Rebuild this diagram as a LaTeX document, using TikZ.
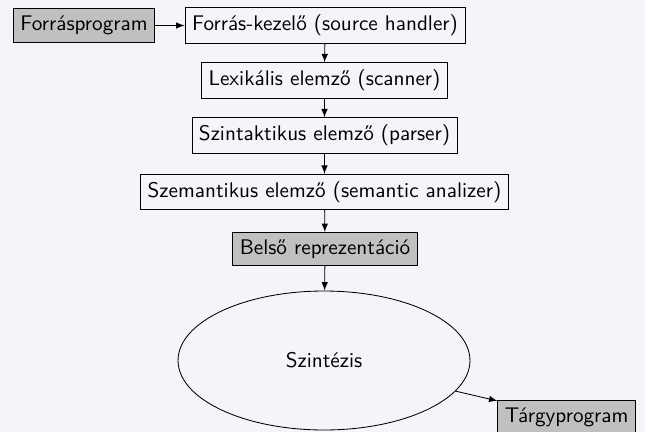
\documentclass[tikz,border=0pt]{standalone}
\usetikzlibrary{shapes.geometric}
\definecolor{lapszin}{RGB}{244,245,249}
\definecolor{szurke}{RGB}{192,192,192}
\begin{document}
\sffamily
\begin{tikzpicture}[x=0.472pt,y=-0.472pt,
  doboz/.style={draw,rectangle},
  szurkedoboz/.style={doboz,fill=szurke},
  nyil/.style={-latex,thin}]
  \fill[lapszin] (0,0) rectangle (645,432);
  \useasboundingbox (0,0) rectangle (645,432);

  \node[szurkedoboz] (forras) at (84,25.5) {Forrásprogram};
  \node[doboz] (kezelo) at (325,25.5) {Forrás-kezelő (source handler)};
  \node[doboz] (lexikalis) at (324.5,80.5) {Lexikális elemző (scanner)};
  \node[doboz] (szintaktikus) at (324.5,135.5) {Szintaktikus elemző (parser)};
  \node[doboz] (szemantikus) at (324.5,192) {Szemantikus elemző (semantic analizer)};
  \node[szurkedoboz] (belso) at (325,249) {Belső reprezentáció};
  \node[draw,ellipse,minimum width=137.8pt,minimum height=65.6pt] (szintezis) at (324,360.5) {Szintézis};
  \node[szurkedoboz] (targy) at (566.7,417) {Tárgyprogram};

  \draw[nyil] (forras) -- (kezelo);
  \draw[nyil] (kezelo) -- (lexikalis);
  \draw[nyil] (lexikalis) -- (szintaktikus);
  \draw[nyil] (szintaktikus) -- (szemantikus);
  \draw[nyil] (szemantikus) -- (belso);
  \draw[nyil] (belso) -- (szintezis);
  \draw[nyil] (szintezis) -- (targy);
\end{tikzpicture}
\end{document}
